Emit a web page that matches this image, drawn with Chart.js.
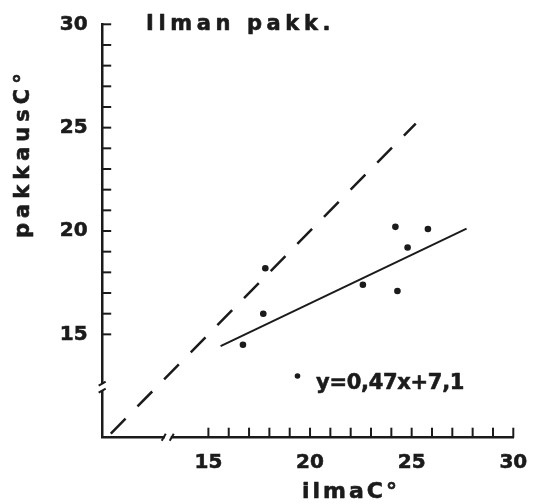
<!DOCTYPE html>
<html>
<head>
<meta charset="utf-8">
<title>Ilman pakk.</title>
<script src="https://cdn.jsdelivr.net/npm/chart.js@4.4.1/dist/chart.umd.min.js"></script>
<style>
  html, body { margin: 0; padding: 0; background: #fff; }
  canvas { display: block; }
</style>
</head>
<body>
<canvas id="chart" width="533" height="504"></canvas>
<script>
// air temperature (x) against package temperature (y), °C
const ilmaC = [16.7, 17.7, 17.8, 22.6, 24.2, 24.3, 24.8, 25.8];
const pakkausC = [14.5, 16.0, 18.2, 17.4, 20.2, 17.1, 19.2, 20.1];

// regression y = 0.47x + 7.1 and the 1:1 line
const fitSlope = 0.47;
const fitIntercept = 7.1;
const fitRange = [15.6, 27.7];
const equalRange = [10.2, 25.2];

const xTickLabels = [15, 20, 25, 30];
const yTickLabels = [15, 20, 25, 30];
const minorTicks = [15, 30];

const INK = '#1b1b1b';
const FONT = '"DejaVu Sans", sans-serif';

const comma = v => String(v).replace('.', ',');
const fitLabel = `y=${comma(fitSlope)}x+${comma(fitIntercept)}`;

const points = ilmaC.map((x, i) => ({ x, y: pakkausC[i] }));
const fitLine = fitRange.map(x => ({ x, y: fitSlope * x + fitIntercept }));
const equalLine = equalRange.map(v => ({ x: v, y: v }));

// heavier text: fill plus a thin outline in the same ink
function boldText(ctx, text, x, y) {
  ctx.fillText(text, x, y);
  ctx.strokeText(text, x, y);
}

// inward ticks, axis breaks and the free-standing texts
const decorations = {
  id: 'decorations',
  afterDraw(chart) {
    const { ctx, chartArea: area, scales: { x, y } } = chart;
    const line = (x1, y1, x2, y2) => {
      ctx.beginPath(); ctx.moveTo(x1, y1); ctx.lineTo(x2, y2); ctx.stroke();
    };
    ctx.save();
    ctx.strokeStyle = INK;
    ctx.lineWidth = 2;
    for (let v = minorTicks[0]; v <= minorTicks[1]; v++) {
      const py = y.getPixelForValue(v);
      line(area.left, py, area.left + 8.5, py);
      const px = x.getPixelForValue(v);
      line(px, area.bottom, px, area.bottom - 10);
    }

    // breaks in both axes
    const by = y.getPixelForValue(12.45);
    const bx = x.getPixelForValue(13.0);
    ctx.fillStyle = '#fff';
    ctx.fillRect(area.left - 3, by - 3, 6, 6);
    ctx.fillRect(bx - 3, area.bottom - 3, 6, 6);
    ctx.lineWidth = 2;
    line(area.left - 4, by - 1.5, area.left + 3, by - 5.5);
    line(area.left - 4, by + 5.5, area.left + 3, by + 1.5);
    line(bx - 6, area.bottom + 3, bx - 2, area.bottom - 4);
    line(bx + 2, area.bottom + 3, bx + 6, area.bottom - 4);

    ctx.fillStyle = INK;
    ctx.lineWidth = 0.6;
    ctx.lineJoin = 'round';
    ctx.textBaseline = 'alphabetic';
    ctx.textAlign = 'left';

    ctx.font = `bold 21px ${FONT}`;
    ctx.letterSpacing = '4.6px';
    boldText(ctx, 'Ilman pakk.', 146, 30);

    ctx.letterSpacing = '3px';
    ctx.font = `bold 22px ${FONT}`;
    boldText(ctx, 'ilmaC°', 302, 498);

    ctx.save();
    ctx.translate(29, 238);
    ctx.rotate(-Math.PI / 2);
    ctx.font = `bold 21px ${FONT}`;
    ctx.letterSpacing = '5px';
    boldText(ctx, 'pakkausC°', 0, 0);
    ctx.restore();

    // legend for the measured points
    const ds = chart.data.datasets[0];
    ctx.fillStyle = ds.pointBackgroundColor;
    ctx.beginPath();
    ctx.arc(297.5, 376, 2.8, 0, Math.PI * 2);
    ctx.fill();
    ctx.fillStyle = INK;
    ctx.font = `bold 21px ${FONT}`;
    ctx.letterSpacing = '-0.3px';
    boldText(ctx, fitLabel, 316, 389);
    ctx.restore();
  }
};

const tickFont = { family: FONT, size: 20, weight: 'bold' };

new Chart(document.getElementById('chart'), {
  type: 'scatter',
  data: {
    datasets: [
      {
        label: fitLabel,
        data: points,
        pointRadius: 3.3,
        pointBackgroundColor: INK,
        pointBorderWidth: 0,
        showLine: false
      },
      {
        label: 'regression',
        data: fitLine,
        showLine: true,
        borderColor: INK,
        borderWidth: 2,
        pointRadius: 0
      },
      {
        label: '1:1',
        data: equalLine,
        showLine: true,
        borderColor: INK,
        borderWidth: 2.5,
        borderDash: [21, 17],
        pointRadius: 0
      }
    ]
  },
  options: {
    responsive: false,
    animation: false,
    devicePixelRatio: 1,
    events: [],
    layout: { padding: { left: 0, right: 19.7, top: 24.3, bottom: 0 } },
    plugins: {
      legend: { display: false },
      tooltip: { enabled: false }
    },
    scales: {
      x: {
        type: 'linear',
        min: 9.8,
        max: 30,
        afterFit: s => { s.height = 66.3; },
        afterBuildTicks: s => { s.ticks = xTickLabels.map(value => ({ value })); },
        grid: { display: false },
        border: { display: true, color: INK, width: 2.5 },
        ticks: {
          autoSkip: false,
          maxRotation: 0,
          padding: 5,
          color: INK,
          textStrokeColor: INK,
          textStrokeWidth: 0.6,
          font: tickFont
        }
      },
      y: {
        type: 'linear',
        min: 10,
        max: 30,
        afterFit: s => { s.width = 102.7; },
        afterBuildTicks: s => { s.ticks = yTickLabels.map(value => ({ value })); },
        grid: { display: false },
        border: { display: true, color: INK, width: 2.5 },
        ticks: {
          autoSkip: false,
          padding: 7,
          color: INK,
          textStrokeColor: INK,
          textStrokeWidth: 0.6,
          font: tickFont
        }
      }
    }
  },
  plugins: [decorations]
});
</script>
</body>
</html>
